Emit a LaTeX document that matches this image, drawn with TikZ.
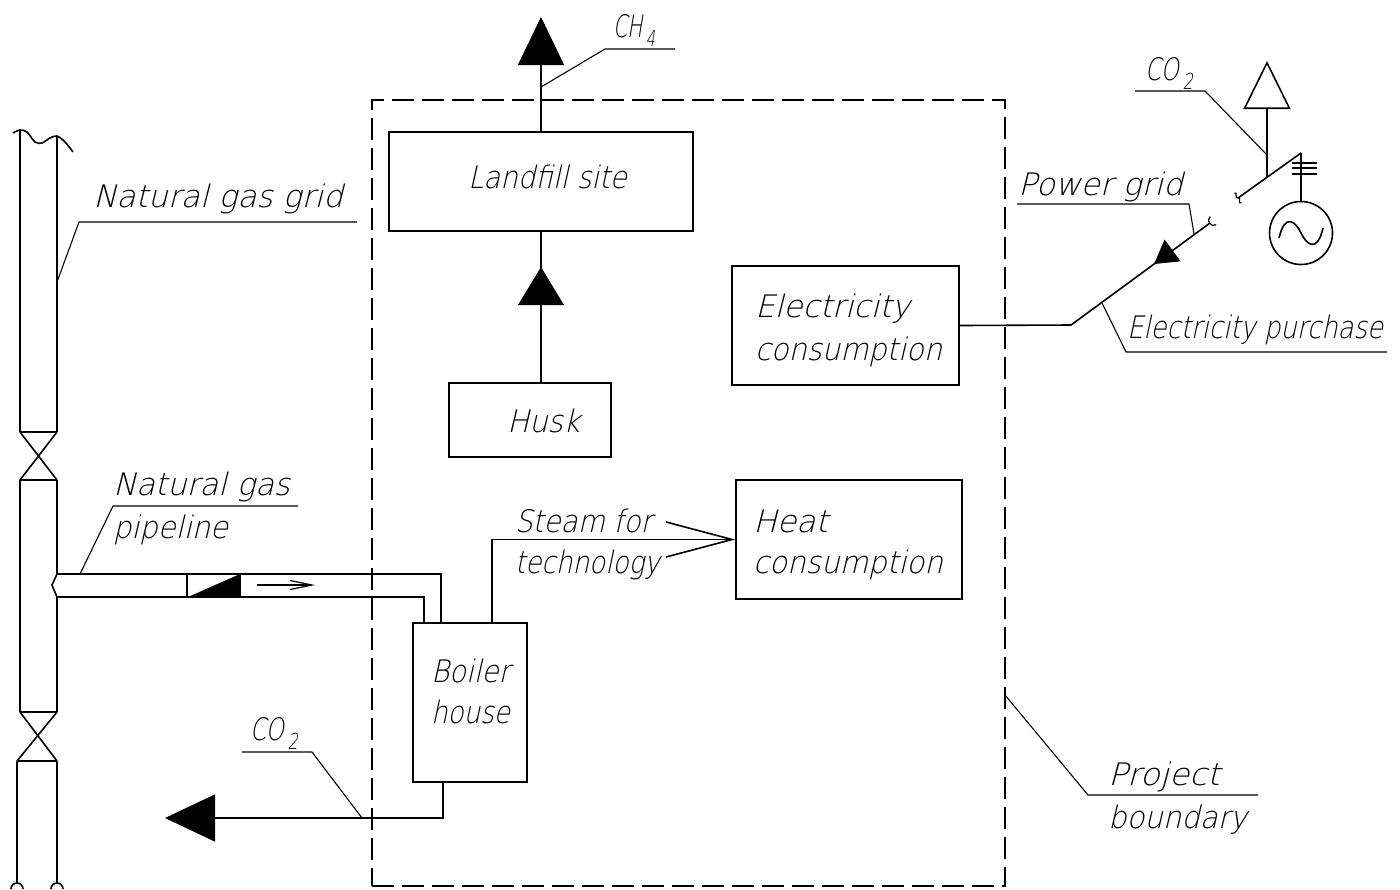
\documentclass[tikz,border=0pt]{standalone}
\usepackage{fontspec}
\usepackage{graphicx}
\usetikzlibrary{arrows.meta,calc}
\IfFontExistsTF{DejaVuSans-ExtraLight.ttf}%
  {\newfontfamily\cad{DejaVuSans-ExtraLight.ttf}[FakeSlant=0.25]}%
  {\newfontfamily\cad{DejaVu Sans}[FakeSlant=0.25]}
\newcommand\labfont{\cad\fontsize{15.5pt}{18pt}\selectfont}
\newcommand\fitto[2]{\resizebox{#1}{\height}{#2}}
\newcommand\subtxt[1]{\kern2.5pt\raisebox{-4.5pt}{\fontsize{11pt}{11pt}\selectfont #1}}
\begin{document}
\begin{tikzpicture}[x=0.5pt,y=-0.5pt,line width=0.8pt,
  box/.style={draw,rectangle,inner sep=0pt},
  lab/.style={anchor=base west,inner sep=0pt,outer sep=0pt,font=\labfont},
  leader/.style={line width=0.55pt},
  bound/.style={draw,rectangle,inner sep=0pt,dash pattern=on 11pt off 4pt}]
\useasboundingbox (0,0) rectangle (1400,889);

% project boundary
\node[bound,minimum width=316.5pt,minimum height=393pt] (boundary) at (688.5,493) {};

% boxes
\node[box,minimum width=152pt,minimum height=49.5pt] (landfill) at (541,181.5) {};
\node[box,minimum width=81pt,minimum height=37pt] (husk) at (530,420) {};
\node[box,minimum width=113.5pt,minimum height=59.5pt] (elec) at (845.5,325.5) {};
\node[box,minimum width=113pt,minimum height=59.5pt] (heat) at (849,539.5) {};
\node[box,minimum width=57pt,minimum height=79.5pt] (boiler) at (470,702.5) {};

% texts
\node[lab] (tLand) at (468,188) {\fitto{79.5pt}{Landfill site}};
\node[lab] (tHusk) at (507,432) {\fitto{36.5pt}{Husk}};
\node[lab] (tElec1) at (755,317) {\fitto{77.5pt}{Electricity}};
\node[lab] (tElec2) at (755,360) {\fitto{93.5pt}{consumption}};
\node[lab] (tHeat1) at (753,532) {\fitto{37.5pt}{Heat}};
\node[lab] (tHeat2) at (753,573) {\fitto{95pt}{consumption}};
\node[lab] (tSteam1) at (515,532) {\fitto{68.5pt}{Steam for}};
\node[lab] (tSteam2) at (515,573) {\fitto{72.5pt}{technology}};
\node[lab] (tBoil1) at (431,682) {\fitto{39.5pt}{Boiler}};
\node[lab] (tBoil2) at (431,723) {\fitto{39.5pt}{house}};
\node[lab] (tGrid) at (93,207) {\fitto{125pt}{Natural gas grid}};
\node[lab] (tPipe1) at (113,495) {\fitto{88.5pt}{Natural gas}};
\node[lab] (tPipe2) at (113,538) {\fitto{57.5pt}{pipeline}};
\node[lab] (tCOa) at (250,740) {\fitto{24pt}{CO\subtxt{2}}};
\node[lab] (tProj1) at (1108,785) {\fitto{56pt}{Project}};
\node[lab] (tProj2) at (1108,828) {\fitto{69.5pt}{boundary}};
\node[lab] (tPower) at (1018,195) {\fitto{82.5pt}{Power grid}};
\node[lab] (tPurch) at (1127,338) {\fitto{128pt}{Electricity purchase}};
\node[lab] (tCOb) at (1145,80) {\fitto{24pt}{CO\subtxt{2}}};
\node[lab] (tCH) at (613,37) {\fitto{21pt}{CH\subtxt{4}}};

% CH4 out of landfill
\coordinate (chend) at (541,17);
\draw[-{Triangle[width=23pt,length=24pt]}] (landfill.north) -- (chend);
\draw[leader] (541,87) -- (605,49) -- (675,49);

% husk -> landfill
\draw (landfill.south |- husk.north) -- (landfill.south);
\fill (541,267) -- (518,305) -- (564,305) -- cycle;

% steam to heat consumption
\coordinate (sx) at (492,0);
\draw[-{Straight Barb[length=33pt,width=17.5pt]}] (boiler.north -| sx) |- (heat.west);

% natural gas pipeline into boiler
\coordinate (pt1) at (57,574);
\coordinate (pb1) at (57,597);
\coordinate (px1) at (441,0);
\coordinate (px2) at (424,0);
\draw (pt1) -| (boiler.north -| px1);
\draw (pb1) -| (boiler.north -| px2);
\draw (187,574) -- (187,597) (240,574) -- (240,597);
\fill (188,597) -- (240,574) -- (240,597) -- cycle;
\draw[line width=0.6pt,-{Straight Barb[length=11pt,width=4.5pt]}] (257,585) -- (315,585);
\draw[leader] (298,506) -- (113,506) -- (80,574);

% CO2 out of boiler
\coordinate (cx) at (443,0);
\coordinate (coend) at (165,818);
\draw[-{Triangle[width=23.5pt,length=25pt]}] (boiler.south -| cx) |- (coend);
\draw[leader] (242,752) -- (312,752) -- (362,818);

% project boundary leader
\draw[leader] (1005,695) -- (1088,795) -- (1258,795);

% natural gas grid (vertical pipe)
\draw[leader] (357,222) -- (79,222) -- (57,282);
\draw plot[smooth] coordinates {(13,133) (20,130) (27,132) (35,142) (42,143) (50,138) (57,136) (65,142) (73,152)};
\draw (20,130) -- (20,432) (57,136) -- (57,432);
\draw (20,432) -- (57,432) (20,480) -- (57,480) (20,432) -- (57,480) (57,432) -- (20,480);
\draw (20,480) -- (20,712);
\draw (57,480) -- (pt1) -- (52,585) -- (pb1) -- (57,712);
\draw (20,712) -- (57,712) (17,761) -- (57,761) (20,712) -- (57,761) (57,712) -- (17,761);
\draw (17,761) -- (17,883) (57,761) -- (57,883);
\draw (11,889) arc[start angle=180,end angle=360,radius=6];
\draw (51,889) arc[start angle=180,end angle=360,radius=6];

% electricity purchase from power grid
\coordinate (e1) at (1071,325);
\coordinate (e2) at (1210,223);
\draw (elec.east) -- (e1) -- (e2);
\draw[line width=0.6pt] (1216.2,224.7) .. controls (1211.35,228.2) and (1205.4,220.15) .. (1210.3,216.6);
\fill (1154,264) -- (1164.6,239.5) -- (1180.6,261.3) -- cycle;
\draw[leader] (1102,303) -- (1126,352) -- (1387,352);
\draw[leader] (1017,204) -- (1189,204) -- (1194,234);

% switch and generator
\coordinate (e3) at (1238,198);
\coordinate (e4) at (1301,153);
\draw (e3) -- (e4);
\draw[line width=0.6pt] (1234.4,193.2) .. controls (1238,191) and (1234,199) .. (e3) .. controls (1242,197) and (1237,205) .. (1241.6,202.8);
\coordinate (v1) at ($(e3)!0.46!(e4)$);
\coordinate (tri) at (1267,61);
\draw[-{Triangle[open,width=23.5pt,length=24pt]}] (v1) -- (v1 |- tri);
\draw[leader] (1135,91) -- (1205,91) -- (1267,155);
\node[circle,draw,minimum size=31.5pt,inner sep=0pt] (gen) at (1301,233) {};
\draw (e4) -- (gen.north);
\draw (1292,163) -- (1317,163) (1292,168) -- (1317,168) (1292,174) -- (1317,174);
\draw (1279,238) .. controls (1285,212) and (1296,222) .. (1301,233) .. controls (1306,244) and (1317,254) .. (1323,228);
\end{tikzpicture}
\end{document}
